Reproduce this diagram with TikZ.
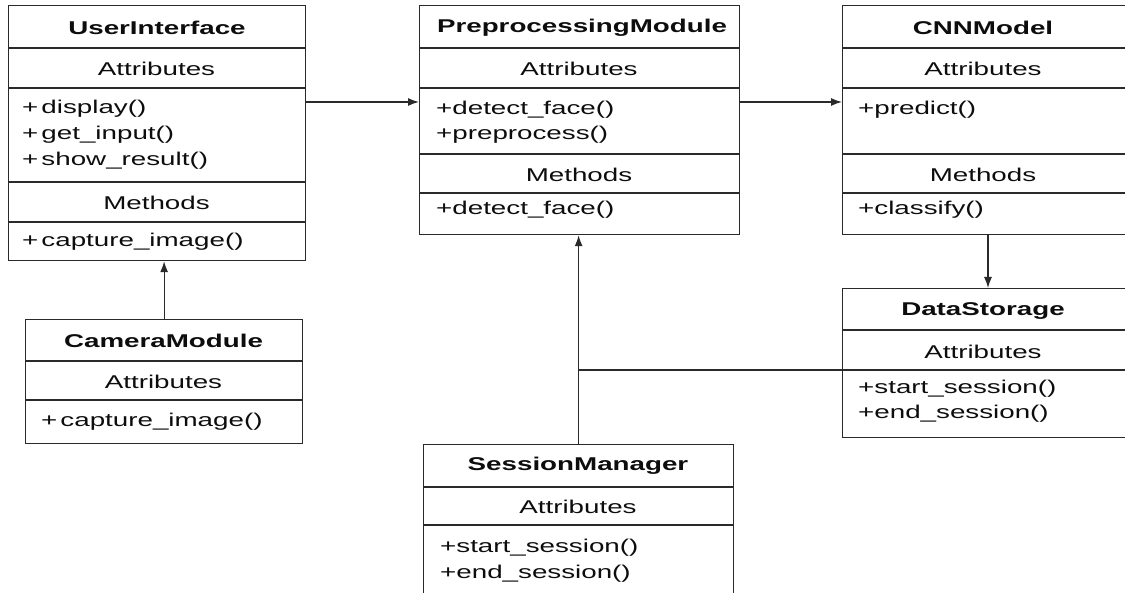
\documentclass[tikz,border=0pt]{standalone}
\usepackage{fontspec}
\setmainfont{Liberation Sans}[FakeStretch=1.5]
\usetikzlibrary{arrows.meta,calc}
\definecolor{linec}{HTML}{2A2A2A}
\definecolor{txtc}{HTML}{0D0D0D}
\begin{document}
\begin{tikzpicture}[x=1pt,y=-1pt,
  cls/.style={draw=linec, line width=1.25pt, inner sep=0pt, anchor=north west},
  sep/.style={draw=linec, line width=1.15pt},
  ttl/.style={font=\fontsize{18.5}{22}\selectfont\bfseries, text=txtc, inner sep=0pt},
  hdr/.style={font=\fontsize{18.5}{22}\selectfont, text=txtc, inner sep=0pt},
  itm/.style={font=\fontsize{18.5}{22}\selectfont, text=txtc, inner sep=0pt, anchor=west},
  conn/.style={draw=linec, line width=1.25pt},
  arr/.style={conn, -{Latex[length=11pt,width=8pt]}}]
\useasboundingbox (0,0) rectangle (1125,593);
\clip (0,0) rectangle (1125,593);

% UserInterface
\node[cls, minimum width=297pt, minimum height=255pt] (ui) at (8,5) {};
\draw[sep] (8,48) -- (305,48);
\draw[sep] (8,88) -- (305,88);
\draw[sep] (8,182) -- (305,182);
\draw[sep] (8,222) -- (305,222);
\node[ttl] (uiT) at (157,28) {UserInterface};
\node[hdr] (uiA) at (156.5,69) {Attributes};
\node[itm] (ui1) at (22,109) {+\,display()};
\node[itm] (ui2) at (22,135) {+\,get\_input()};
\node[itm] (ui3) at (22,161) {+\,show\_result()};
\node[hdr] (uiM) at (156.5,203) {Methods};
\node[itm] (ui4) at (22,242) {+\,capture\_image()};

% PreprocessingModule
\node[cls, minimum width=320pt, minimum height=229pt] (pp) at (419,5) {};
\draw[sep] (419,48) -- (739,48);
\draw[sep] (419,88) -- (739,88);
\draw[sep] (419,154) -- (739,154);
\draw[sep] (419,193) -- (739,193);
\node[ttl] (ppT) at (582,28) {PreprocessingModule};
\node[hdr] (ppA) at (579,69) {Attributes};
\node[itm] (pp1) at (436,110) {+detect\_face()};
\node[itm] (pp2) at (436,135) {+preprocess()};
\node[hdr] (ppM) at (579,175) {Methods};
\node[itm] (pp3) at (436,210) {+detect\_face()};

% CNNModel
\node[cls, minimum width=285pt, minimum height=229pt] (cnn) at (842,5) {};
\draw[sep] (842,48) -- (1127,48);
\draw[sep] (842,88) -- (1127,88);
\draw[sep] (842,154) -- (1127,154);
\draw[sep] (842,193) -- (1127,193);
\node[ttl] (cnnT) at (983,28) {CNNModel};
\node[hdr] (cnnA) at (983,69) {Attributes};
\node[itm] (cnn1) at (858,110) {+predict()};
\node[hdr] (cnnM) at (983,175) {Methods};
\node[itm] (cnn2) at (858,210) {+classify()};

% DataStorage
\node[cls, minimum width=285pt, minimum height=149pt] (ds) at (842,288) {};
\draw[sep] (842,330) -- (1127,330);
\draw[sep] (842,370) -- (1127,370);
\node[ttl] (dsT) at (983,311) {DataStorage};
\node[hdr] (dsA) at (983,352) {Attributes};
\node[itm] (ds1) at (858,389) {+start\_session()};
\node[itm] (ds2) at (858,414) {+end\_session()};

% CameraModule
\node[cls, minimum width=277pt, minimum height=124pt] (cam) at (25,319) {};
\draw[sep] (25,361) -- (302,361);
\draw[sep] (25,400) -- (302,400);
\node[ttl] (camT) at (163.5,341) {CameraModule};
\node[hdr] (camA) at (163.5,382) {Attributes};
\node[itm] (cam1) at (41,422) {+\,capture\_image()};

% SessionManager
\node[cls, minimum width=310pt, minimum height=170pt] (sm) at (423,444) {};
\draw[sep] (423,487) -- (733,487);
\draw[sep] (423,525) -- (733,525);
\node[ttl] (smT) at (578,466) {SessionManager};
\node[hdr] (smA) at (578,507) {Attributes};
\node[itm] (sm1) at (440,548) {+start\_session()};
\node[itm] (sm2) at (440,574) {+end\_session()};

% connectors
\draw[arr] ($(ui.north east)+(0,97)$) -- ($(pp.north west)+(0,97)$);
\draw[arr] ($(pp.north east)+(0,97)$) -- ($(cnn.north west)+(0,97)$);
\draw[arr] ($(cnn.south west)+(146,0)$) -- ($(ds.north west)+(146,0)$);
\draw[arr] (cam.north) -- (cam.north |- ui.south);
\draw[arr] (sm.north) -- (sm.north |- pp.south);
\coordinate (dsj) at ($(ds.north west)+(0,82)$);
\draw[conn] (dsj) -- (dsj -| sm.north);
\end{tikzpicture}
\end{document}
